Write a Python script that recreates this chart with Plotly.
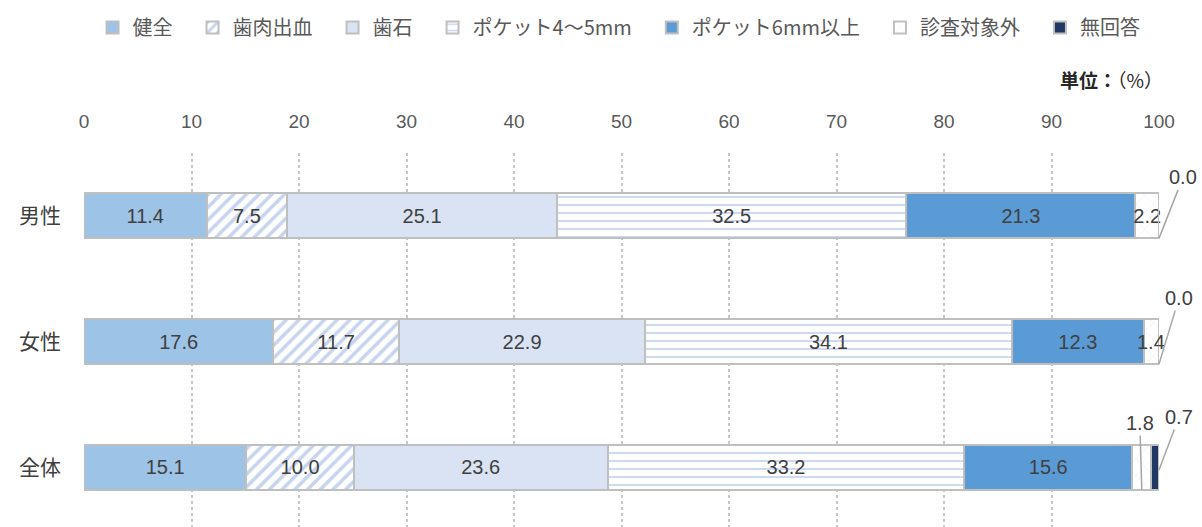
import plotly.graph_objects as go

categories = ["男性", "女性", "全体"]
series_names = ["健全", "歯肉出血", "歯石", "ポケット4～5mm", "ポケット6mm以上", "診査対象外", "無回答"]
v_healthy = [11.4, 17.6, 15.1]
v_bleeding = [7.5, 11.7, 10.0]
v_calculus = [25.1, 22.9, 23.6]
v_pocket45 = [32.5, 34.1, 33.2]
v_pocket6 = [21.3, 12.3, 15.6]
v_excluded = [2.2, 1.4, 1.8]
v_noanswer = [0.0, 0.0, 0.7]
x_ticks = [0, 10, 20, 30, 40, 50, 60, 70, 80, 90, 100]

series_values = [v_healthy, v_bleeding, v_calculus, v_pocket45, v_pocket6, v_excluded, v_noanswer]

styles = [
    dict(color="#9DC3E6"),
    dict(color="white", pattern=dict(shape="/", fgcolor="#8FAADC", bgcolor="white", size=9, solidity=0.4)),
    dict(color="#DAE3F3"),
    dict(color="white", pattern=dict(shape="-", fgcolor="#8FAADC", bgcolor="white", size=8, solidity=0.22)),
    dict(color="#5B9BD5"),
    dict(color="white", pattern=dict(shape="x", fgcolor="#DAE3F3", bgcolor="white", size=12, solidity=0.12)),
    dict(color="#203864"),
]

# labels drawn as callouts with leader lines
callout = {(5, 2), (6, 0), (6, 1), (6, 2)}
# labels drawn as plain annotations centred on narrow segments
plain = {(5, 1)}

LABEL_FONT = "Liberation Sans, Noto Sans CJK JP, sans-serif"
JP_FONT = "Noto Sans CJK JP, sans-serif"
BAR_W = 0.358

fig = go.Figure()
for i, (name, vals, st) in enumerate(zip(series_names, series_values, styles)):
    texts = ["" if (i, j) in callout or (i, j) in plain else f"{v:.1f}" for j, v in enumerate(vals)]
    marker = dict(color=st["color"], line=dict(color="#BFBFBF", width=2))
    if "pattern" in st:
        marker["pattern"] = st["pattern"]
    legend_name = name if i == len(series_names) - 1 else name + "\u2002\u2005"
    fig.add_trace(go.Bar(
        y=categories, x=vals, name=legend_name, orientation="h", marker=marker,
        width=BAR_W, text=texts, textposition="inside", insidetextanchor="middle",
        textangle=0, constraintext="none",
        textfont=dict(size=20, color="#404040", family=LABEL_FONT),
        cliponaxis=False,
    ))

def cum(j, upto):
    return sum(series_values[k][j] for k in range(upto))

for si, cj in sorted(plain):
    fig.add_annotation(
        x=cum(cj, si) + series_values[si][cj] / 2, y=categories[cj], xref="x", yref="y",
        text=f"{series_values[si][cj]:.1f}", showarrow=False,
        font=dict(size=20, color="#404040", family=LABEL_FONT),
        xanchor="center", yanchor="middle",
    )

callouts = [
    # (series idx, category idx, tip_x, tip_y_offset, ax, ay)
    (6, 0, cum(0, 7), BAR_W / 2, 24, -61),
    (6, 1, cum(1, 7), BAR_W / 2, 20, -66),
    (5, 2, cum(2, 5) + v_excluded[2] / 2, BAR_W / 2, -2, -67),
    (6, 2, cum(2, 7), 0.02, 20, -53),
]
for si, cj, tx, dy, ax, ay in callouts:
    fig.add_annotation(
        x=tx, y=cj + dy, xref="x", yref="y",
        text=f"{series_values[si][cj]:.1f}", showarrow=True, arrowhead=0,
        arrowcolor="#A6A6A6", arrowwidth=1.5, ax=ax, ay=ay, standoff=0,
        font=dict(size=20, color="#404040", family=LABEL_FONT),
        xanchor="center", yanchor="middle",
    )

fig.add_annotation(
    x=1.0, y=1.0, xref="paper", yref="paper", xanchor="right", yanchor="bottom",
    yshift=58, xshift=6,
    text="<b>単位：</b>（%）", showarrow=False,
    font=dict(size=19, color="#262626", family=JP_FONT),
)

fig.update_layout(
    width=1202, height=527,
    barmode="stack",
    plot_bgcolor="white", paper_bgcolor="white",
    margin=dict(l=84, r=43, t=153, b=0),
    uniformtext=dict(minsize=20, mode="show"),
    legend=dict(
        orientation="h", xref="container", x=0.077, xanchor="left",
        y=0.985, yref="container", yanchor="top",
        font=dict(size=20, color="#595959", family=JP_FONT),
        traceorder="normal", itemwidth=30,
    ),
    xaxis=dict(
        side="top", range=[0, 100], tickvals=x_ticks, ticktext=[str(t) for t in x_ticks],
        showgrid=True, gridcolor="#C8C8C8", griddash="dot", gridwidth=1.5,
        zeroline=False, showline=False, ticks="", ticklabelstandoff=20,
        tickfont=dict(size=19, color="#595959", family=LABEL_FONT),
    ),
    yaxis=dict(
        type="category", categoryorder="array", categoryarray=categories,
        range=[2.474, -0.5], showgrid=False, zeroline=False, showline=False,
        ticks="", ticklabelstandoff=22,
        tickfont=dict(size=21, color="#404040", family=JP_FONT),
    ),
)

fig.write_html("out.html")
